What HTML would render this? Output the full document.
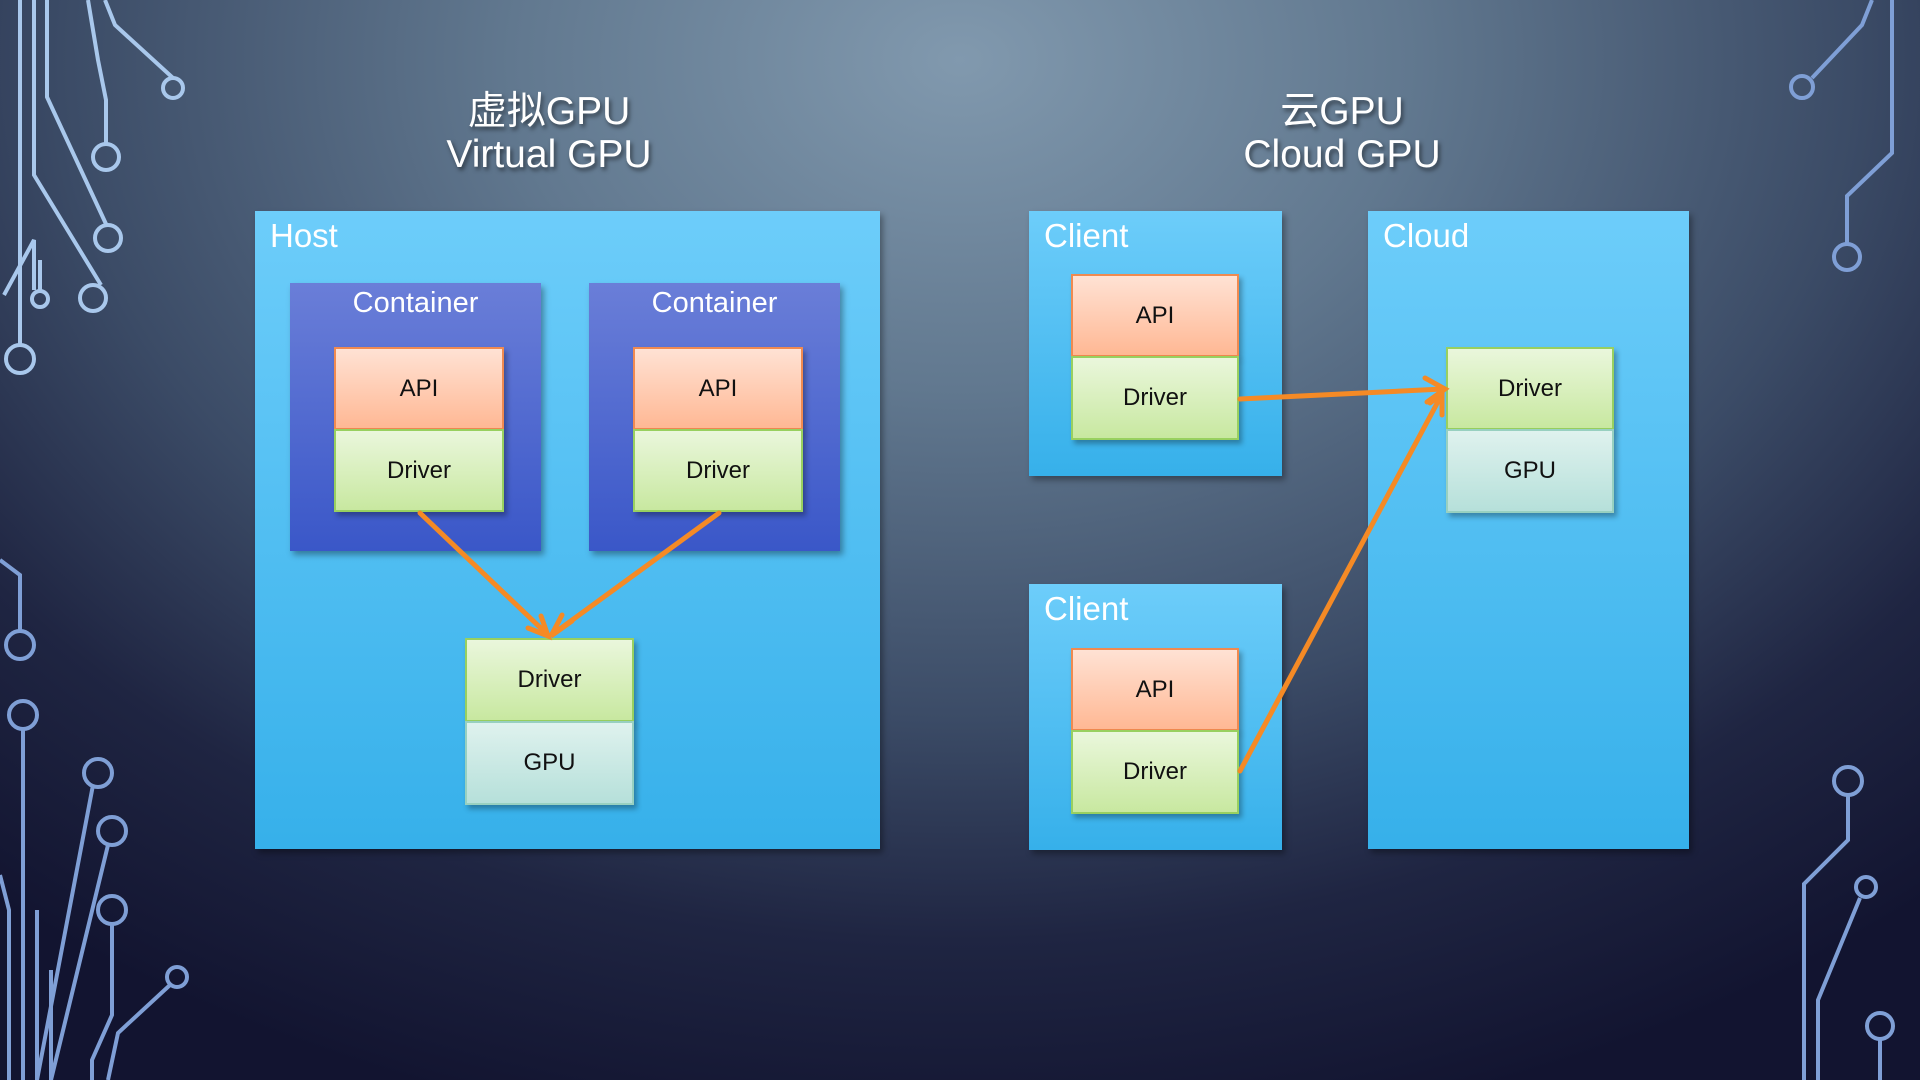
<!DOCTYPE html>
<html><head><meta charset="utf-8"><style>
*{margin:0;padding:0;box-sizing:border-box}
body{width:1920px;height:1080px;overflow:hidden;position:relative;font-family:"Liberation Sans","Noto Sans CJK SC",sans-serif;
background:radial-gradient(ellipse 1500px 1100px at 960px 60px,#8199ae 0%,#61788f 30%,#3b4b66 60%,#1f2542 80%,#121430 100%);}
.abs{position:absolute}
.panel{position:absolute;background:linear-gradient(#6dcdfa,#36b0ea);box-shadow:3px 4px 6px rgba(0,0,0,.35)}
.plabel{position:absolute;left:15px;top:6px;color:#fff;font-size:33px}
.cont{position:absolute;background:linear-gradient(#6a7ed8,#3a57c8);box-shadow:3px 4px 6px rgba(0,0,0,.35)}
.clabel{position:absolute;width:100%;text-align:center;top:4px;color:#fff;font-size:29px}
.box{position:absolute;display:flex;align-items:center;justify-content:center;font-size:24px;color:#111;box-shadow:3px 4px 5px rgba(0,0,0,.3)}
.api{background:linear-gradient(#ffe2d4,#ffb894);border:2px solid #f08a50}
.drv{background:linear-gradient(#eaf7dc,#c8e8a0);border:2px solid #98d060}
.gpu{background:linear-gradient(#dff2ee,#b6e0da);border:2px solid #98d0c0}
.title{position:absolute;color:#fff;font-size:39px;text-align:center;line-height:43px;text-shadow:2px 3px 4px rgba(0,0,0,.5);width:400px}
</style></head><body>
<svg class="abs" style="left:0;top:0" width="1920" height="1080" fill="none" stroke="#a9c8ec" stroke-width="4">
<path d="M20 0V345M34 0V175L101 285M47 0V97L106 224V225M88 0L98 60L106 100V143M105 0L115 25L173 78M4 295L34 240V290M40 260V291"/>
<circle cx="20" cy="359" r="14"/><circle cx="40" cy="299" r="8"/><circle cx="106" cy="157" r="13"/><circle cx="108" cy="238" r="13"/><circle cx="93" cy="298" r="13"/><circle cx="173" cy="88" r="10"/>
<g stroke="#7f9fd6"><path d="M0 560L20 575V631M23 729V1080M0 875L9 910V1080M37 910V1080L93 785M51 970V1080L108 845M112 924V1015L92 1060V1080M108 1080L118 1033L170 985"/>
<circle cx="20" cy="645" r="14"/><circle cx="23" cy="715" r="14"/><circle cx="98" cy="773" r="14"/><circle cx="112" cy="831" r="14"/><circle cx="112" cy="910" r="14"/><circle cx="177" cy="977" r="10"/>
<path d="M1872 0L1862 25L1812 78M1892 0V153L1847 196V245M1848 795V840L1804 884V1080M1860 898L1818 1000V1080M1880 1040V1080"/>
<circle cx="1802" cy="87" r="11"/><circle cx="1847" cy="257" r="13"/><circle cx="1848" cy="781" r="14"/><circle cx="1866" cy="887" r="10"/><circle cx="1880" cy="1026" r="13"/></g>
</svg>
<div class="title" style="left:349px;top:90px">虚拟GPU<br>Virtual GPU</div>
<div class="title" style="left:1142px;top:90px">云GPU<br>Cloud GPU</div>

<div class="panel" style="left:255px;top:211px;width:625px;height:638px"><div class="plabel">Host</div></div>
<div class="cont" style="left:290px;top:283px;width:251px;height:268px"><div class="clabel">Container</div></div>
<div class="cont" style="left:589px;top:283px;width:251px;height:268px"><div class="clabel">Container</div></div>
<div class="box api" style="left:334px;top:347px;width:170px;height:83px">API</div>
<div class="box drv" style="left:334px;top:429px;width:170px;height:83px">Driver</div>
<div class="box api" style="left:633px;top:347px;width:170px;height:83px">API</div>
<div class="box drv" style="left:633px;top:429px;width:170px;height:83px">Driver</div>
<div class="box drv" style="left:465px;top:638px;width:169px;height:84px">Driver</div>
<div class="box gpu" style="left:465px;top:721px;width:169px;height:84px">GPU</div>

<div class="panel" style="left:1029px;top:211px;width:253px;height:265px"><div class="plabel">Client</div></div>
<div class="panel" style="left:1029px;top:584px;width:253px;height:266px"><div class="plabel">Client</div></div>
<div class="panel" style="left:1368px;top:211px;width:321px;height:638px"><div class="plabel">Cloud</div></div>
<div class="box api" style="left:1071px;top:274px;width:168px;height:83px">API</div>
<div class="box drv" style="left:1071px;top:356px;width:168px;height:84px">Driver</div>
<div class="box api" style="left:1071px;top:648px;width:168px;height:83px">API</div>
<div class="box drv" style="left:1071px;top:730px;width:168px;height:84px">Driver</div>
<div class="box drv" style="left:1446px;top:347px;width:168px;height:83px">Driver</div>
<div class="box gpu" style="left:1446px;top:429px;width:168px;height:84px">GPU</div>

<svg class="abs" style="left:0;top:0" width="1920" height="1080" fill="none" stroke="#f58a25" stroke-width="5" stroke-linecap="round">
<path d="M420 513L547 634M719 513L553 634M1240 399L1443 389M1240 771L1441 396"/>
<path d="M528 628L548 636L541 616M572 621L551 636L562 615M1425 378L1445 389L1427 402M1430 403L1442 394L1442 415"/>
</svg>
</body></html>
